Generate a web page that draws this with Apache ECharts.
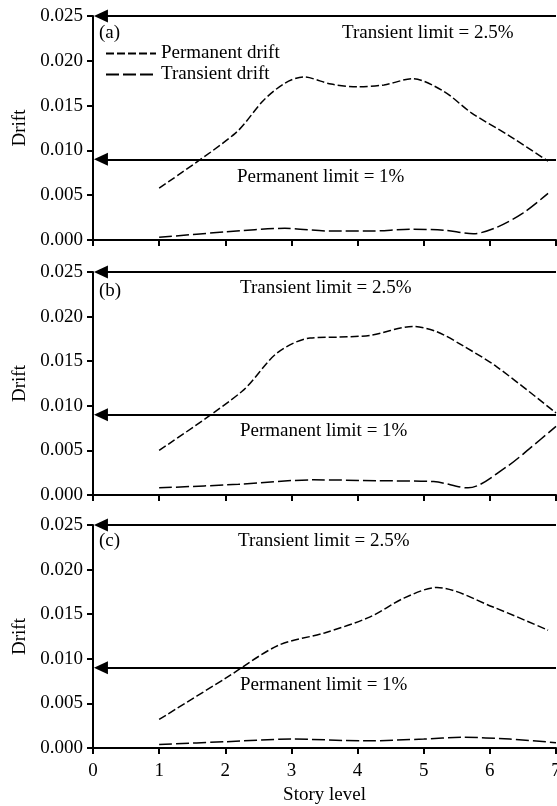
<!DOCTYPE html>
<html>
<head>
<meta charset="utf-8">
<script src="https://cdn.jsdelivr.net/npm/echarts@6/dist/echarts.min.js"></script>
<style>
  html, body { margin: 0; padding: 0; background: #fff; }
  #chart { width: 557px; height: 806px; }
</style>
</head>
<body>
<div id="chart"></div>
<script>
var FONT = "'Liberation Serif', 'Times New Roman', serif";

// ---- data ----
var xTicks = [0, 1, 2, 3, 4, 5, 6, 7];
var yTicks = [0, 0.005, 0.010, 0.015, 0.020, 0.025];
var transientLimit = 0.025;
var permanentLimit = 0.009;

// panel (a)
var upperAx = [1, 2.15, 2.58, 2.9, 3.18, 3.6, 4.0, 4.4, 4.83, 5.3, 5.72, 6.3, 6.88];
var upperAy = [0.0058, 0.0119, 0.0156, 0.0175, 0.0182, 0.0174, 0.0171, 0.0173, 0.0180, 0.0166, 0.0142, 0.0116, 0.0088];
var lowerAx = [1, 2, 2.9, 3.6, 4.2, 4.8, 5.3, 5.75, 6.1, 6.5, 6.88];
var lowerAy = [0.0003, 0.0009, 0.0013, 0.0010, 0.0010, 0.0012, 0.0011, 0.0007, 0.0014, 0.0030, 0.0052];

// panel (b)
var upperBx = [1, 2.25, 2.78, 3.28, 3.7, 4.19, 4.84, 5.2, 5.6, 6.1, 7];
var upperBy = [0.0050, 0.0116, 0.0159, 0.0176, 0.0177, 0.0179, 0.0189, 0.0183, 0.0167, 0.0144, 0.0092];
var lowerBx = [1, 2.2, 3.33, 4.3, 5.15, 5.67, 6.26, 6.6, 7];
var lowerBy = [0.0008, 0.0012, 0.0017, 0.0016, 0.0015, 0.0008, 0.0032, 0.0052, 0.0077];

// panel (c)
var upperCx = [1, 2.0, 2.8, 3.5, 4.19, 4.7, 5.2, 6.05, 6.88];
var upperCy = [0.0032, 0.0078, 0.0115, 0.0129, 0.0147, 0.0168, 0.0180, 0.0158, 0.0132];
var lowerCx = [1, 2, 3, 4.1, 5, 5.57, 6.3, 7];
var lowerCy = [0.0004, 0.0007, 0.0010, 0.0008, 0.0010, 0.0012, 0.0010, 0.0006];

function zip(xs, ys) {
    var out = [];
    for (var i = 0; i < xs.length; i++) out.push([xs[i], ys[i]]);
    return out;
}

var grids = [
    {left: 93, right: 1, top: 16, height: 224, outerBoundsMode: 'none'},
    {left: 93, right: 1, top: 272, height: 223, outerBoundsMode: 'none'},
    {left: 93, right: 1, top: 525, height: 223, outerBoundsMode: 'none'}
];

var xAxes = [], yAxes = [];
for (var g = 0; g < 3; g++) {
    var last = g === 2;
    xAxes.push({
        type: 'value', gridIndex: g,
        min: xTicks[0], max: xTicks[xTicks.length - 1], interval: 1,
        splitLine: {show: false},
        axisLine: {lineStyle: {color: '#000', width: 2}},
        axisTick: {inside: false, length: 6, lineStyle: {color: '#000', width: 2}},
        axisLabel: {show: last, margin: 14, color: '#000', fontFamily: FONT, fontSize: 19},
        name: last ? 'Story level' : '',
        nameLocation: 'middle', nameGap: 38,
        nameTextStyle: {color: '#000', fontFamily: FONT, fontSize: 19}
    });
    yAxes.push({
        type: 'value', gridIndex: g,
        min: yTicks[0], max: yTicks[yTicks.length - 1], interval: 0.005,
        splitLine: {show: false},
        axisLine: {show: true, lineStyle: {color: '#000', width: 2}},
        axisTick: {show: true, inside: false, length: 6, lineStyle: {color: '#000', width: 2}},
        axisLabel: {margin: 10, color: '#000', fontFamily: FONT, fontSize: 19,
            formatter: function (v) { return v.toFixed(3); }},
        name: 'Drift', nameLocation: 'middle', nameGap: 61,
        nameTextStyle: {color: '#000', fontFamily: FONT, fontSize: 19}
    });
}

function limitLines() {
    return {
        silent: true,
        symbol: ['triangle', 'none'],
        symbolSize: [13, 14],
        itemStyle: {color: '#000'},
        lineStyle: {color: '#000', width: 1.8, type: 'solid'},
        label: {show: false},
        data: [
            [{coord: [0.12, transientLimit]}, {coord: [7, transientLimit]}],
            [{coord: [0.12, permanentLimit]}, {coord: [7, permanentLimit]}]
        ]
    };
}

var upper = [zip(upperAx, upperAy), zip(upperBx, upperBy), zip(upperCx, upperCy)];
var lower = [zip(lowerAx, lowerAy), zip(lowerBx, lowerBy), zip(lowerCx, lowerCy)];

var series = [];
for (var k = 0; k < 3; k++) {
    series.push({
        name: 'Permanent drift', type: 'line', xAxisIndex: k, yAxisIndex: k,
        data: upper[k], smooth: 0.3, symbol: 'none', color: '#000',
        lineStyle: {color: '#000', width: 1.5, type: [8, 3]},
        markLine: limitLines()
    });
    series.push({
        name: 'Transient drift', type: 'line', xAxisIndex: k, yAxisIndex: k,
        data: lower[k], smooth: 0.3, symbol: 'none', color: '#000',
        lineStyle: {color: '#000', width: 1.5, type: [13, 4]}
    });
}

function txt(x, y, s) {
    return {type: 'text', left: x, top: y,
        style: {text: s, fill: '#000', font: '19px ' + FONT}};
}

var myChart = echarts.init(document.getElementById('chart'), null, {renderer: 'canvas'});
var option = {
    backgroundColor: '#fff',
    animation: false,
    grid: grids,
    xAxis: xAxes,
    yAxis: yAxes,
    legend: {
        orient: 'vertical', left: 100, top: 39,
        itemWidth: 50, itemHeight: 14, itemGap: 2,
        data: ['Permanent drift', 'Transient drift'],
        itemStyle: {opacity: 0},
        textStyle: {color: '#000', fontFamily: FONT, fontSize: 19},
        inactiveColor: '#000'
    },
    graphic: [
        txt(99, 24, '(a)'),
        txt(342, 24, 'Transient limit = 2.5%'),
        txt(237, 168, 'Permanent limit = 1%'),
        txt(99, 282, '(b)'),
        txt(240, 279, 'Transient limit = 2.5%'),
        txt(240, 422, 'Permanent limit = 1%'),
        txt(99, 532, '(c)'),
        txt(238, 532, 'Transient limit = 2.5%'),
        txt(240, 676, 'Permanent limit = 1%')
    ],
    series: series
};
myChart.setOption(option);
</script>
</body>
</html>
